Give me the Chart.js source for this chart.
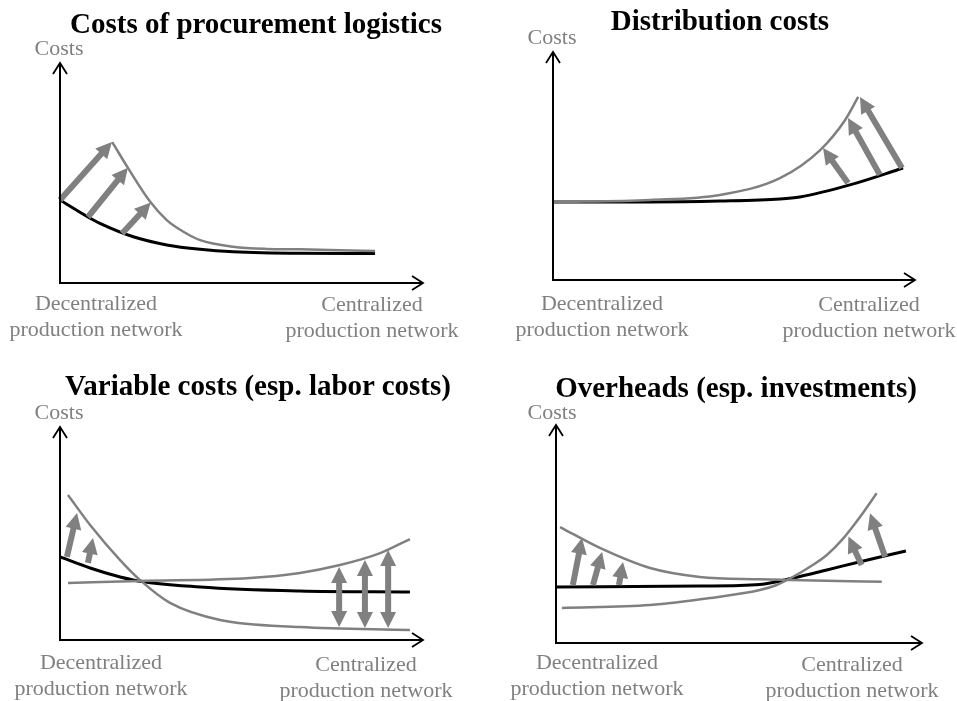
<!DOCTYPE html>
<html><head><meta charset="utf-8">
<script src="https://cdn.jsdelivr.net/npm/chart.js@4"></script>
<style>
body{margin:0;background:#fff;width:957px;height:701px;overflow:hidden;position:relative;font-family:"Liberation Serif","Times New Roman",serif}
canvas{position:absolute;left:0;top:0}
.t{position:absolute;white-space:nowrap;transform:translate(-50%,-50%);text-align:center}
.title{font-weight:bold;font-size:29px;color:#000;line-height:32px}
.lab{font-size:22px;color:#808080;line-height:26px}
</style></head><body>
<canvas id="c1" width="957" height="701"></canvas>
<canvas id="c2" width="957" height="701"></canvas>
<canvas id="c3" width="957" height="701"></canvas>
<canvas id="c4" width="957" height="701"></canvas>

<div class="t title" style="left:256px;top:23px">Costs of procurement logistics</div>
<div class="t title" style="left:720px;top:20px">Distribution costs</div>
<div class="t title" style="left:258px;top:385px">Variable costs (esp. labor costs)</div>
<div class="t title" style="left:736px;top:387px">Overheads (esp. investments)</div>

<div class="t lab" style="left:59px;top:48px">Costs</div>
<div class="t lab" style="left:552px;top:37px">Costs</div>
<div class="t lab" style="left:59px;top:412px">Costs</div>
<div class="t lab" style="left:552px;top:412px">Costs</div>

<div class="t lab" style="left:96px;top:316px">Decentralized<br>production network</div>
<div class="t lab" style="left:372px;top:317px">Centralized<br>production network</div>
<div class="t lab" style="left:602px;top:316px">Decentralized<br>production network</div>
<div class="t lab" style="left:869px;top:317px">Centralized<br>production network</div>
<div class="t lab" style="left:101px;top:675px">Decentralized<br>production network</div>
<div class="t lab" style="left:366px;top:677px">Centralized<br>production network</div>
<div class="t lab" style="left:597px;top:675px">Decentralized<br>production network</div>
<div class="t lab" style="left:852px;top:677px">Centralized<br>production network</div>

<script>
// ---- axis extent (abstract units: 0 = decentralized, 10 = centralized) ----
const xRange = [0, 10];
const yRange = [0, 10];

// ---- Panel 1: Costs of procurement logistics ----
const p1BaseX = [0, 0.77, 1.1, 2.02, 2.94, 3.86, 4.77, 6.61, 8.68];
const p1BaseY = [3.77, 3.0, 2.71, 2.1, 1.73, 1.53, 1.42, 1.35, 1.34];
const p1HighX = [1.44, 1.88, 2.48, 2.94, 3.4, 3.86, 4.77, 5.69, 6.61, 8.68];
const p1HighY = [6.4, 5.21, 3.7, 2.86, 2.33, 1.95, 1.65, 1.55, 1.53, 1.45];
const p1Arrows = [[0, 3.77, 1.43, 6.41], [0.77, 3.0, 1.87, 5.24], [1.71, 2.25, 2.5, 3.66]];

// ---- Panel 2: Distribution costs ----
const p2BaseX = [0, 2.68, 4.61, 6.27, 6.82, 8.2, 9.67];
const p2BaseY = [3.42, 3.42, 3.46, 3.55, 3.64, 4.17, 4.91];
const p2HighX = [0, 2.68, 4.61, 6.27, 7.38, 8.07, 8.43];
const p2HighY = [3.42, 3.51, 3.73, 4.47, 5.7, 7.02, 8.03];
const p2Arrows = [[8.15, 4.25, 7.46, 5.79], [9.03, 4.61, 8.15, 7.11], [9.64, 4.91, 8.48, 8.03]];

// ---- Panel 3: Variable costs ----
const p3BaseX = [0, 0.83, 2.01, 3.86, 6.61, 9.64];
const p3BaseY = [3.9, 3.38, 2.82, 2.49, 2.3, 2.25];
const p3FallX = [0.22, 0.83, 1.65, 2.2, 3.03, 4.41, 6.61, 9.64];
const p3FallY = [6.81, 5.4, 3.76, 2.82, 1.74, 0.94, 0.61, 0.47];
const p3RiseX = [0.22, 2.2, 5.23, 6.61, 7.71, 8.82, 9.64];
const p3RiseY = [2.68, 2.77, 2.91, 3.15, 3.52, 4.08, 4.74];
const p3Arrows = [[0.19, 3.9, 0.47, 5.96], [0.77, 3.62, 0.91, 4.79]];
const p3DoubleArrows = [[7.69, 0.61, 7.69, 3.43], [8.4, 0.56, 8.4, 3.76], [9.04, 0.56, 9.04, 4.23]];

// ---- Panel 4: Overheads ----
const p4BaseX = [0, 3.93, 5.57, 6.48, 7.4, 8.31, 9.56];
const p4BaseY = [2.57, 2.61, 2.68, 2.98, 3.35, 3.73, 4.22];
const p4FallX = [0.11, 1.2, 2.57, 3.93, 5.57, 6.39, 8.9];
const p4FallY = [5.32, 4.36, 3.44, 3.03, 2.92, 2.89, 2.81];
const p4RiseX = [0.16, 2.57, 4.21, 5.57, 6.03, 6.48, 6.94, 7.4, 7.85, 8.31, 8.76];
const p4RiseY = [1.61, 1.74, 2.06, 2.43, 2.66, 3.04, 3.5, 4.04, 4.8, 5.79, 6.87];
const p4Arrows = [[0.46, 2.66, 0.71, 4.82], [1.01, 2.66, 1.26, 4.17], [1.72, 2.66, 1.83, 3.72],
                  [8.35, 3.58, 7.99, 4.88], [8.99, 3.96, 8.58, 5.95]];

const GRAY = '#808080';
const BLACK = '#000000';

function pts(xs, ys) { return xs.map((x, i) => ({ x: x, y: ys[i] })); }
function line(xs, ys, color, w) {
  return { data: pts(xs, ys), borderColor: color, borderWidth: w, pointRadius: 0,
           fill: false, tension: 0.4, cubicInterpolationMode: 'monotone', clip: 10 };
}

const HL = 16, HW = 8, SW = 6;
function head(ctx, x, y, ux, uy) {
  const px = -uy, py = ux;
  ctx.beginPath();
  ctx.moveTo(x, y);
  ctx.lineTo(x - ux * HL + px * HW, y - uy * HL + py * HW);
  ctx.lineTo(x - ux * HL - px * HW, y - uy * HL - py * HW);
  ctx.closePath();
  ctx.fill();
}
function arrow(ctx, x1, y1, x2, y2, dbl) {
  const dx = x2 - x1, dy = y2 - y1, L = Math.hypot(dx, dy), ux = dx / L, uy = dy / L;
  let sx = x1, sy = y1;
  if (dbl) { sx = x1 + ux * HL * 0.9; sy = y1 + uy * HL * 0.9; }
  ctx.strokeStyle = GRAY; ctx.fillStyle = GRAY; ctx.lineWidth = SW; ctx.lineCap = 'butt';
  ctx.beginPath(); ctx.moveTo(sx, sy); ctx.lineTo(x2 - ux * HL * 0.9, y2 - uy * HL * 0.9); ctx.stroke();
  head(ctx, x2, y2, ux, uy);
  if (dbl) head(ctx, x1, y1, -ux, -uy);
}

const costPlugin = {
  id: 'costDecor',
  afterDatasetsDraw(chart, args, opts) {
    const ctx = chart.ctx, xs = chart.scales.x, ys = chart.scales.y;
    ctx.save();
    (opts.arrows || []).forEach(a => arrow(ctx, xs.getPixelForValue(a[0]), ys.getPixelForValue(a[1]),
                                           xs.getPixelForValue(a[2]), ys.getPixelForValue(a[3]), false));
    (opts.doubleArrows || []).forEach(a => arrow(ctx, xs.getPixelForValue(a[0]), ys.getPixelForValue(a[1]),
                                           xs.getPixelForValue(a[2]), ys.getPixelForValue(a[3]), true));
    // axes
    const ox = xs.getPixelForValue(xRange[0]), oy = ys.getPixelForValue(yRange[0]);
    const tx = xs.getPixelForValue(xRange[1]), ty = ys.getPixelForValue(yRange[1]);
    ctx.strokeStyle = BLACK; ctx.lineWidth = 2; ctx.lineCap = 'butt';
    ctx.beginPath();
    ctx.moveTo(ox, ty + 1); ctx.lineTo(ox, oy); ctx.lineTo(tx - 1, oy);
    ctx.stroke();
    ctx.lineWidth = 1.8;
    ctx.beginPath();
    ctx.moveTo(ox - 7, ty + 11); ctx.lineTo(ox, ty); ctx.lineTo(ox + 7, ty + 11);
    ctx.moveTo(tx - 11, oy - 7); ctx.lineTo(tx, oy); ctx.lineTo(tx - 11, oy + 7);
    ctx.stroke();
    ctx.restore();
  }
};

function makeChart(id, pad, datasets, arrows, doubleArrows) {
  return new Chart(document.getElementById(id), {
    type: 'line',
    data: { datasets: datasets },
    options: {
      responsive: false, animation: false, events: [],
      layout: { padding: pad },
      plugins: { legend: { display: false }, tooltip: { enabled: false }, title: { display: false },
                 costDecor: { arrows: arrows, doubleArrows: doubleArrows } },
      scales: {
        x: { type: 'linear', min: xRange[0], max: xRange[1], display: false },
        y: { type: 'linear', min: yRange[0], max: yRange[1], display: false }
      }
    },
    plugins: [costPlugin]
  });
}

makeChart('c1', { left: 60, top: 63, right: 957 - 423, bottom: 701 - 283 },
  [line(p1HighX, p1HighY, GRAY, 2.5), line(p1BaseX, p1BaseY, BLACK, 3)], p1Arrows, []);
makeChart('c2', { left: 553, top: 52, right: 957 - 915, bottom: 701 - 280 },
  [line(p2HighX, p2HighY, GRAY, 2.5), line(p2BaseX, p2BaseY, BLACK, 3)], p2Arrows, []);
makeChart('c3', { left: 60, top: 427, right: 957 - 423, bottom: 701 - 640 },
  [line(p3FallX, p3FallY, GRAY, 2.5), line(p3RiseX, p3RiseY, GRAY, 2.5), line(p3BaseX, p3BaseY, BLACK, 3)],
  p3Arrows, p3DoubleArrows);
makeChart('c4', { left: 556, top: 425, right: 957 - 922, bottom: 701 - 643 },
  [line(p4FallX, p4FallY, GRAY, 2.5), line(p4RiseX, p4RiseY, GRAY, 2.5), line(p4BaseX, p4BaseY, BLACK, 3)],
  p4Arrows, []);
</script>
</body></html>
